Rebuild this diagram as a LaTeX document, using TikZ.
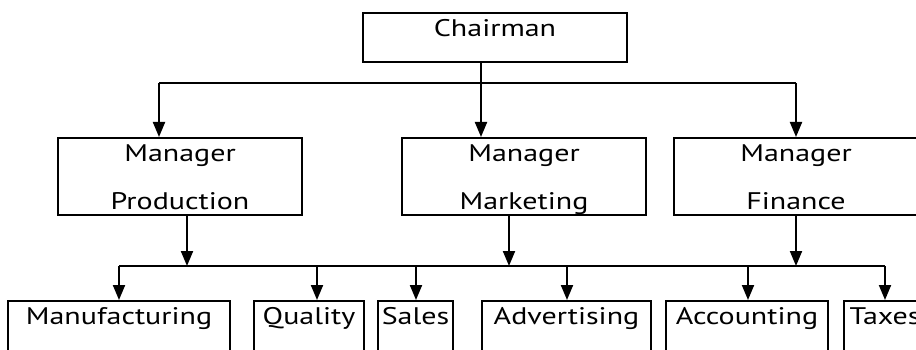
\documentclass[tikz,border=0pt]{standalone}
\usepackage{fontspec}
\setmainfont{PT Sans}[FakeStretch=1.25]
\usetikzlibrary{arrows.meta}
\pgfdeclarelayer{nodelayer}
\pgfdeclarelayer{edgelayer}
\pgfsetlayers{edgelayer,nodelayer,main}
\tikzstyle{top box}=[fill=white, draw=black, shape=rectangle, anchor=north, line width=2pt, inner xsep=3pt, inner ysep=0pt, text height=24pt, text depth=25pt, font=\fontsize{24}{48}\selectfont]
\tikzstyle{mid box}=[top box, minimum width=244pt, align=center, text height=71pt, text depth=6pt]
\tikzstyle{low box}=[top box, text height=23pt, text depth=48pt]
\tikzstyle{none}=[fill=none, draw=none, shape=circle, scale=0]
\tikzstyle{line}=[draw=black, line width=2pt]
\tikzstyle{arrow}=[line, -{Triangle[length=15pt, width=12pt]}]

\begin{document}
\begin{tikzpicture}[x=1pt, y=-1pt]
	\useasboundingbox (0, 0) rectangle (916, 350);
	\clip (0, 0) rectangle (916, 350);
	\begin{pgfonlayer}{nodelayer}
		\node [style=top box, minimum width=264pt] (0) at (495, 12) {Chairman};
		\node [style=mid box] (1) at (180, 137) {Manager\\Production};
		\node [style=mid box] (2) at (524, 137) {Manager\\Marketing};
		\node [style=mid box] (3) at (796, 137) {Manager\\Finance};
		\node [style=low box, minimum width=222pt] (4) at (119, 300) {Manufacturing};
		\node [style=low box, minimum width=110pt] (5) at (309, 300) {Quality};
		\node [style=low box, minimum width=75pt] (6) at (415.5, 300) {Sales};
		\node [style=low box, minimum width=169pt] (7) at (566.5, 300) {Advertising};
		\node [style=low box, minimum width=162pt] (8) at (747, 300) {Accounting};
		\node [style=low box, minimum width=82pt] (9) at (885, 300) {Taxes};
		\node [style=none] (10) at (159, 83) {};
		\node [style=none] (11) at (481, 83) {};
		\node [style=none] (12) at (796, 83) {};
		\node [style=none] (13) at (119, 266) {};
		\node [style=none] (14) at (187, 266) {};
		\node [style=none] (15) at (317, 266) {};
		\node [style=none] (16) at (416, 266) {};
		\node [style=none] (17) at (509, 266) {};
		\node [style=none] (18) at (567, 266) {};
		\node [style=none] (19) at (748, 266) {};
		\node [style=none] (20) at (796, 266) {};
		\node [style=none] (21) at (885, 266) {};
	\end{pgfonlayer}
	\begin{pgfonlayer}{edgelayer}
		\draw [style=line] (10.center) to (12.center);
		\draw [style=arrow] (0.south -| 11.center) to (2.north -| 11.center);
		\draw [style=arrow] (10.center) to (1.north -| 10.center);
		\draw [style=arrow] (12.center) to (3);
		\draw [style=line] (13.center) to (21.center);
		\draw [style=arrow] (1.south -| 14.center) to (14.center);
		\draw [style=arrow] (2.south -| 17.center) to (17.center);
		\draw [style=arrow] (3) to (20.center);
		\draw [style=arrow] (13.center) to (4);
		\draw [style=arrow] (15.center) to (5.north -| 15.center);
		\draw [style=arrow] (16.center) to (6.north -| 16.center);
		\draw [style=arrow] (18.center) to (7.north -| 18.center);
		\draw [style=arrow] (19.center) to (8.north -| 19.center);
		\draw [style=arrow] (21.center) to (9);
	\end{pgfonlayer}
\end{tikzpicture}
\end{document}
